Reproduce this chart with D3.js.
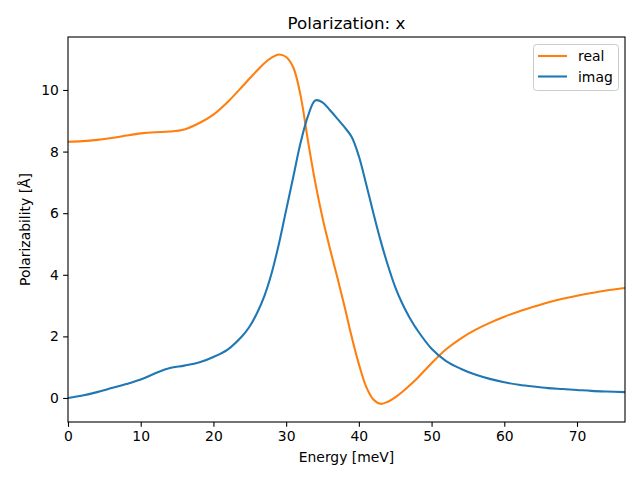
<!DOCTYPE html>
<html>
<head>
<meta charset="utf-8">
<script src="https://cdn.jsdelivr.net/npm/d3@7"></script>
<style>
  html, body { margin: 0; padding: 0; background: #fff; }
  svg { display: block; font-family: "DejaVu Sans", sans-serif; }
</style>
</head>
<body>
<svg id="chart" width="640" height="480"></svg>
<script>
const energy = [0,2,4,6,8,10,12,14,16,18,20,22,24,25,26,27,28,29,30,31,32,33,34,35,36,37,38,39,40,41,42,43,44,45,46,47,48,50,52,54,56,58,60,62,64,66,68,70,72,74,76.6];
const realValues = [8.32,8.34,8.38,8.44,8.52,8.59,8.63,8.65,8.72,8.92,9.20,9.62,10.12,10.38,10.63,10.87,11.05,11.15,11.07,10.72,9.80,8.35,7.00,5.85,4.87,3.95,3.00,2.00,1.10,0.37,-0.05,-0.19,-0.12,0.02,0.20,0.41,0.63,1.13,1.58,1.93,2.21,2.44,2.64,2.81,2.96,3.10,3.22,3.32,3.41,3.49,3.57];
const imagValues = [0.00,0.08,0.19,0.32,0.45,0.60,0.80,0.97,1.05,1.15,1.33,1.58,2.02,2.33,2.76,3.31,4.05,5.00,6.10,7.20,8.30,9.15,9.66,9.60,9.35,9.08,8.80,8.48,7.85,6.95,6.00,5.10,4.30,3.60,3.05,2.60,2.22,1.60,1.20,0.95,0.76,0.62,0.51,0.43,0.37,0.32,0.29,0.26,0.23,0.21,0.19];
const xTicks = [0,10,20,30,40,50,60,70];
const yTicks = [0,2,4,6,8,10];
const seriesNames = ["real","imag"];
const seriesColors = ["#ff7f0e","#1f77b4"];

const svg = d3.select("#chart");
const mLeft = 68, mRight = 625, mTop = 37, mBottom = 422;
const x = d3.scaleLinear().domain([0, 76.6]).range([mLeft, mRight]);
const y = d3.scaleLinear().domain([-0.78, 11.72]).range([mBottom, mTop]);

const fontSize = 13.9;

// lines
const series = [realValues, imagValues];
const line = d3.line().x(d => x(d[0])).y(d => y(d[1])).curve(d3.curveCatmullRom.alpha(0.5));
const plot = svg.append("g");
plot.append("clipPath").attr("id","clip").append("rect")
  .attr("x", mLeft).attr("y", mTop).attr("width", mRight-mLeft).attr("height", mBottom-mTop);
series.forEach((vals, i) => {
  plot.append("path")
    .datum(energy.map((e, j) => [e, vals[j]]))
    .attr("d", line)
    .attr("fill", "none")
    .attr("stroke", seriesColors[i])
    .attr("stroke-width", 2.08)
    .attr("stroke-linejoin", "round")
    .attr("stroke-linecap", "square")
    .attr("clip-path", "url(#clip)");
});

// axes
const xAxis = d3.axisBottom(x).tickValues(xTicks).tickSize(4.86).tickPadding(4.2).tickFormat(d3.format("d"));
const yAxis = d3.axisLeft(y).tickValues(yTicks).tickSize(4.86).tickPadding(4.2).tickFormat(d3.format("d"));
const gx = svg.append("g").attr("transform", `translate(0,${mBottom})`).call(xAxis);
const gy = svg.append("g").attr("transform", `translate(${mLeft},0)`).call(yAxis);
[gx, gy].forEach(g => {
  g.select(".domain").remove();
  g.selectAll(".tick line").attr("stroke", "#000").attr("stroke-width", 1.1);
  g.selectAll(".tick text").attr("fill", "#000").style("font-size", fontSize + "px").style("font-family", "DejaVu Sans");
});

// spines
svg.append("rect").attr("x", mLeft).attr("y", mTop).attr("width", mRight-mLeft).attr("height", mBottom-mTop)
  .attr("fill", "none").attr("stroke", "#000").attr("stroke-width", 1.1);

// title & labels
svg.append("text").attr("x", (mLeft+mRight)/2).attr("y", 29).attr("text-anchor", "middle")
  .style("font-size", "16.7px").text("Polarization: x");
svg.append("text").attr("x", (mLeft+mRight)/2).attr("y", 462).attr("text-anchor", "middle")
  .style("font-size", fontSize + "px").text("Energy [meV]");
svg.append("text").attr("transform", `translate(30,${(mTop+mBottom)/2}) rotate(-90)`).attr("text-anchor", "middle")
  .style("font-size", fontSize + "px").text("Polarizability [Å]");

// legend
const lg = svg.append("g");
lg.append("rect").attr("x", 533.5).attr("y", 44.5).attr("width", 85).attr("height", 46).attr("rx", 3)
  .attr("fill", "#fff").attr("fill-opacity", 0.8).attr("stroke", "#ccc").attr("stroke-width", 1);
seriesNames.forEach((name, i) => {
  const yy = 56 + i * 20.5;
  lg.append("line").attr("x1", 538).attr("x2", 567).attr("y1", yy).attr("y2", yy)
    .attr("stroke", seriesColors[i]).attr("stroke-width", 2.08);
  lg.append("text").attr("x", 578).attr("y", yy + 5).style("font-size", fontSize + "px").text(name);
});
</script>
</body>
</html>
